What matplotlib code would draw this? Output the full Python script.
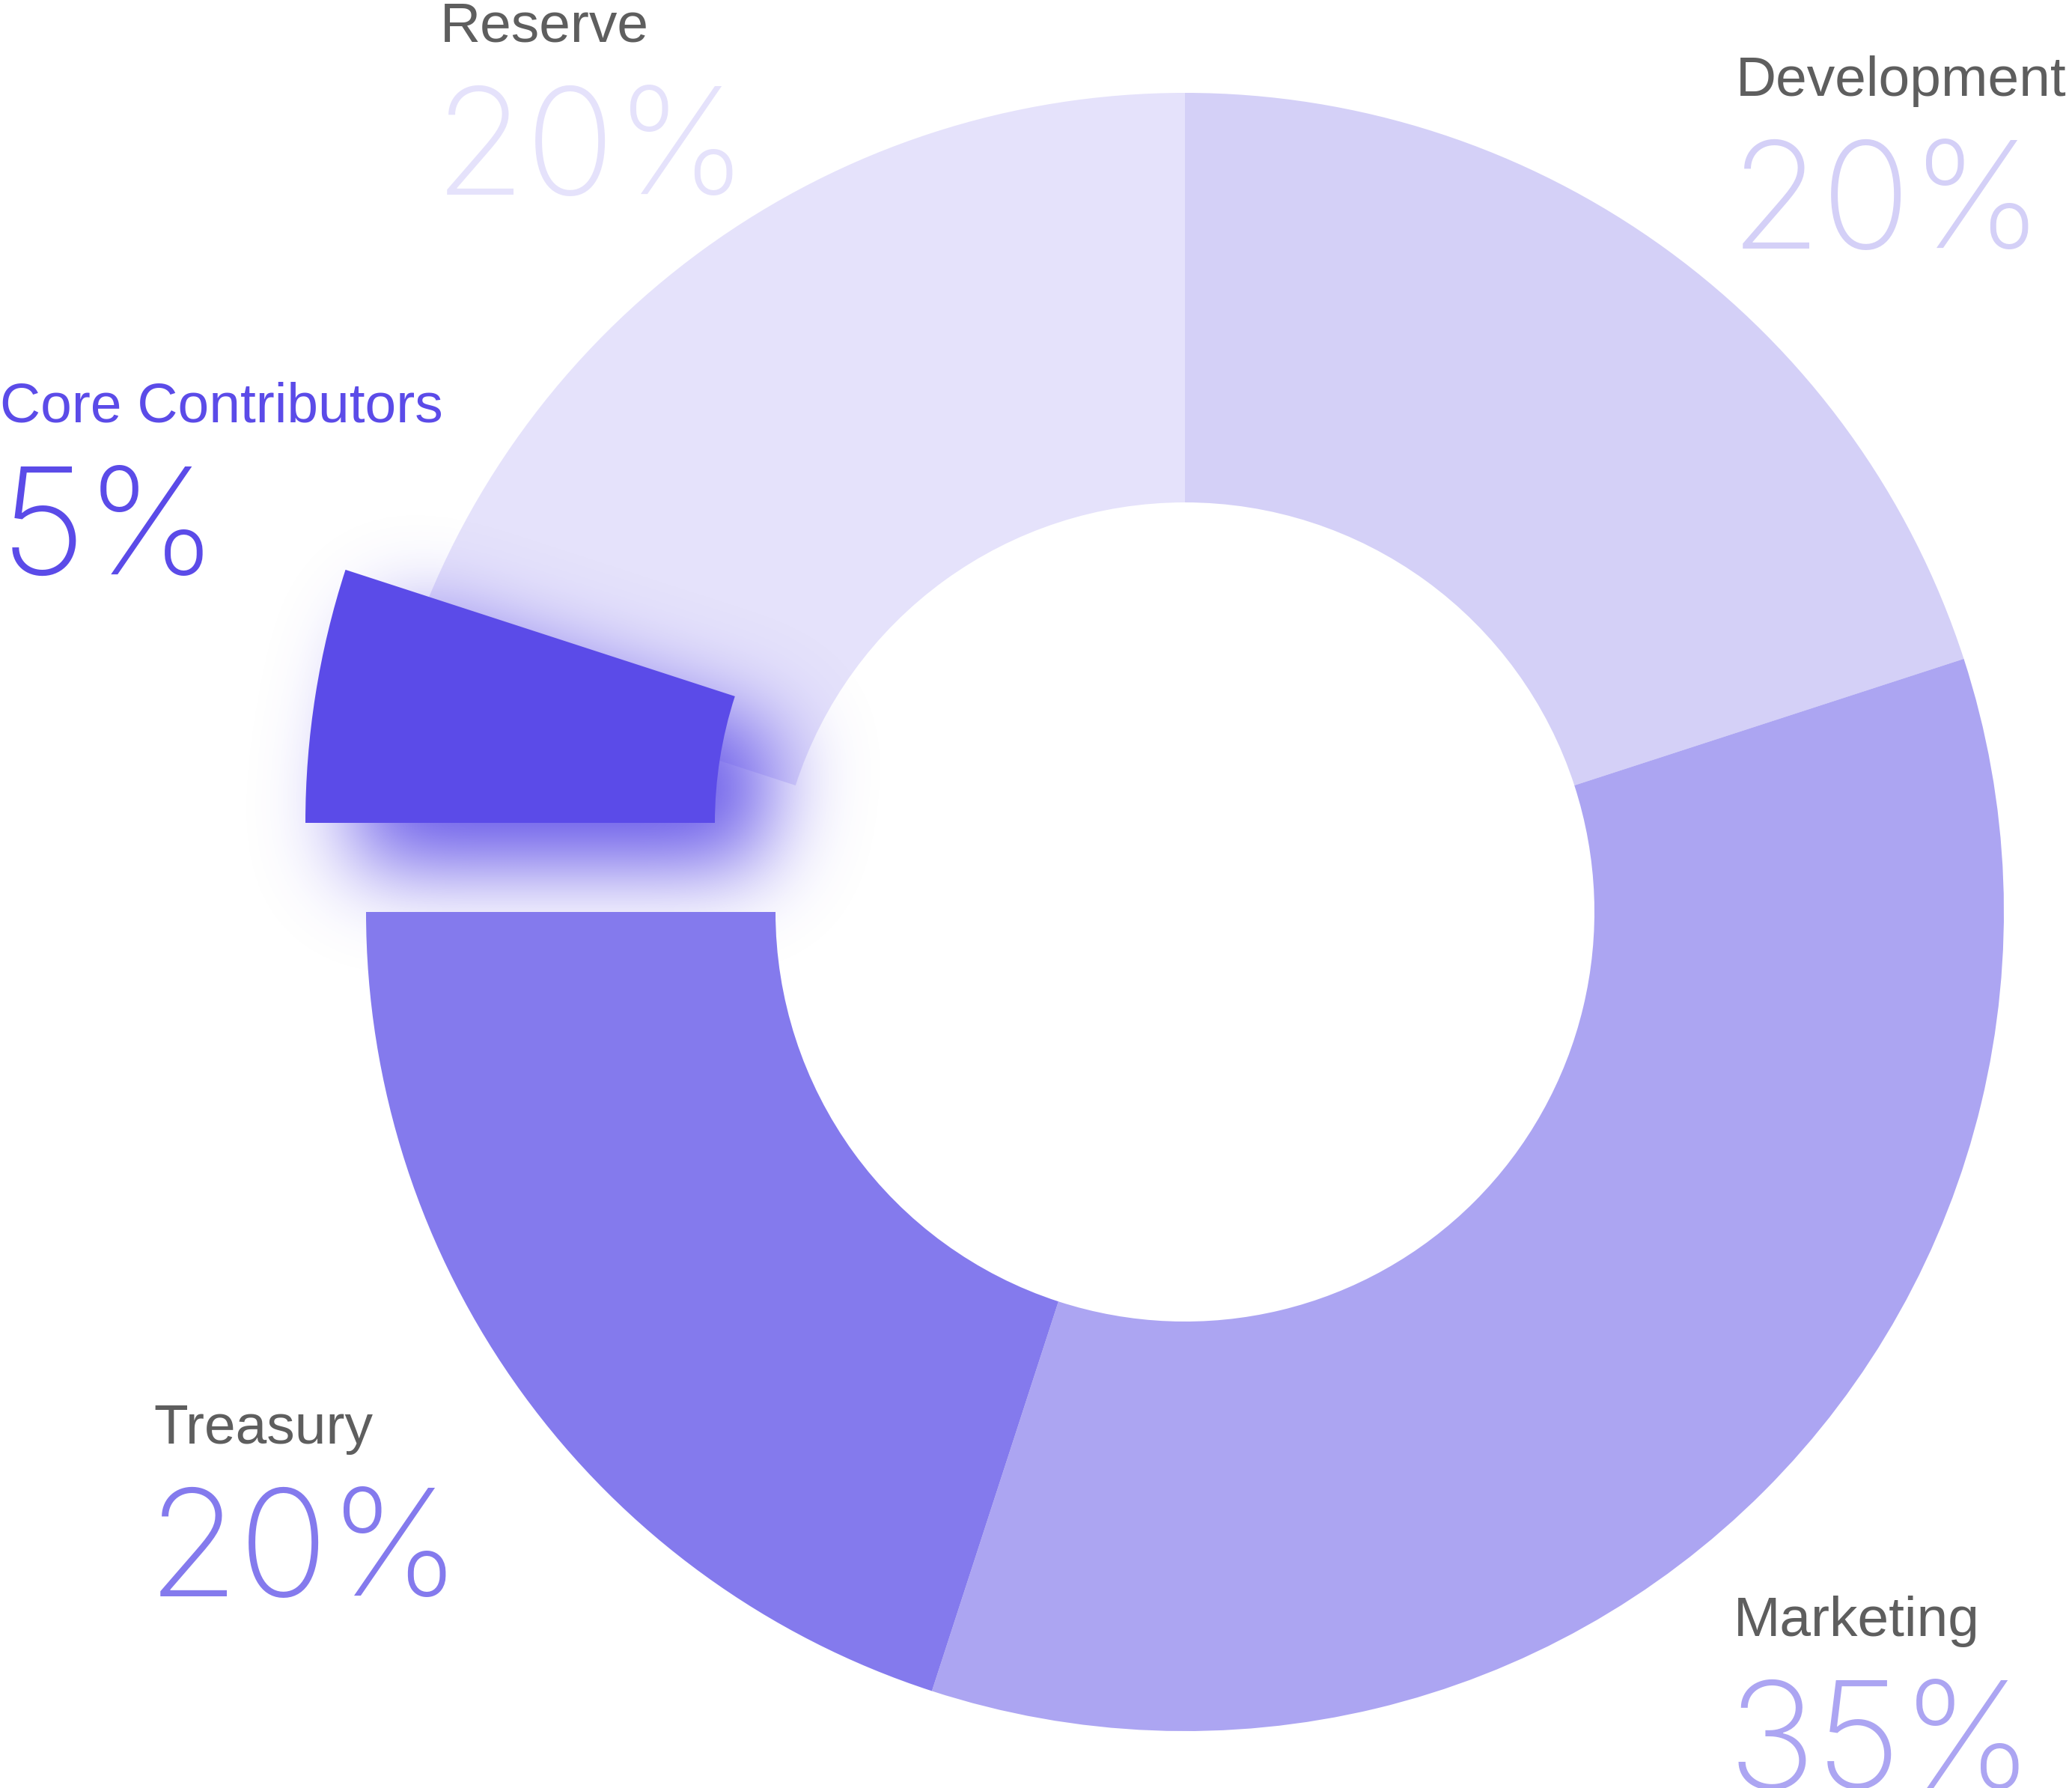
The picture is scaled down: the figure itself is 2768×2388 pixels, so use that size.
import numpy as np
import matplotlib
matplotlib.use("Agg")
import matplotlib.pyplot as plt
from matplotlib.colors import to_rgb

# data
labels = ["Development", "Marketing", "Treasury", "Core Contributors", "Reserve"]
shares = [20, 35, 20, 5, 20]
colors = ["#D4D0F7", "#ACA5F2", "#847AED", "#5B4BE8", "#E5E2FB"]
label_colors = ["#5E5E5E", "#5E5E5E", "#5E5E5E", "#5B4BE8", "#5E5E5E"]

W, H = 2768, 2388
cx, cy = 1583, H - 1218     # ring centre (y measured up)
R = 1094
HOLE = 0.5
core_shift = (-81, 119)      # core slice pulled out
shadow_shift = (-20, 62)     # where its soft shadow sits

# label anchors (left x, baseline y from top)
label_pos = {
    "Development": (2319, 128),
    "Marketing": (2316, 2185),
    "Treasury": (205, 1928),
    "Core Contributors": (0, 564),
    "Reserve": (588, 56),
}
PCT_GAP = 204

fig = plt.figure(figsize=(W / 100, H / 100), dpi=100)
ax = fig.add_axes([0, 0, 1, 1])

wedges, _ = ax.pie(shares, colors=colors, startangle=90, counterclock=False,
                   radius=R, center=(cx, cy), frame=True,
                   wedgeprops=dict(width=R * (1 - HOLE), linewidth=0, edgecolor="none"))

core = wedges[labels.index("Core Contributors")]
core.set_center((cx + core_shift[0], cy + core_shift[1]))
core.set_zorder(5)
wedges[labels.index("Treasury")].set_zorder(4)
for name in ("Development", "Marketing", "Reserve"):
    wedges[labels.index(name)].set_zorder(1)


def blurred_wedge(w, center, sigma, step=4, pad=260):
    # rasterise the slice at the shadow position, then gaussian blur it
    t1, t2 = w.theta1 % 360, w.theta2 % 360
    lo, hi = min(t1, t2), max(t1, t2)
    r_out, r_in = w.r, w.r - w.width
    xs = np.arange(center[0] - r_out - pad, center[0] - r_in * 0.9 + pad, step)
    ys = np.arange(center[1] - pad, center[1] + r_out * 0.32 + pad, step)
    X, Y = np.meshgrid(xs, ys)
    dx, dy = X - center[0], Y - center[1]
    r = np.hypot(dx, dy)
    ang = np.degrees(np.arctan2(dy, dx)) % 360
    mask = ((r >= r_in) & (r <= r_out) & (ang >= lo) & (ang <= hi)).astype(float)
    s = sigma / step
    k = np.arange(-int(3 * s), int(3 * s) + 1)
    kern = np.exp(-0.5 * (k / s) ** 2)
    kern /= kern.sum()
    mask = np.apply_along_axis(lambda v: np.convolve(v, kern, mode="same"), 1, mask)
    mask = np.apply_along_axis(lambda v: np.convolve(v, kern, mode="same"), 0, mask)
    return mask, (xs[0], xs[-1] + step, ys[0], ys[-1] + step)


glow, ext = blurred_wedge(core, (cx + shadow_shift[0], cy + shadow_shift[1]), sigma=58)
rgba = np.zeros(glow.shape + (4,))
rgba[..., :3] = to_rgb(colors[labels.index("Core Contributors")])
rgba[..., 3] = np.clip(glow * 0.95, 0, 1)
ax.imshow(rgba, extent=ext, origin="lower", interpolation="bilinear", zorder=2, aspect="auto")

for name, share, col, lcol in zip(labels, shares, colors, label_colors):
    x, base = label_pos[name]
    ax.text(x, H - base, name, color=lcol, fontsize=54, family="Liberation Sans",
            ha="left", va="baseline", zorder=6)
    px = max(x - 8, 0)
    ax.text(px, H - base - PCT_GAP, f"{share}%", color=col, fontsize=143,
            family="Inter", fontweight=200, ha="left", va="baseline", zorder=6)

ax.set_xlim(0, W)
ax.set_ylim(0, H)
ax.set_aspect("auto")
ax.axis("off")

fig.savefig("out.png", dpi=100, facecolor="white")
